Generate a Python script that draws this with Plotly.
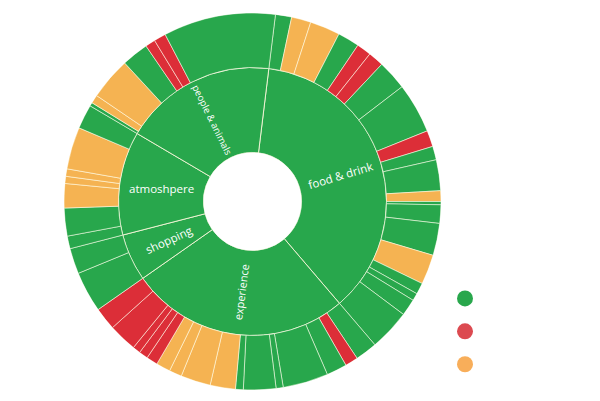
import math
import plotly.graph_objects as go

# ---------------- data ----------------
inner_labels = ["food & drink", "experience", "shopping", "atmoshpere", "people & animals"]

food_values = [5, 6, 9.3, 6.7, 4.5, 4.8, 9.2, 15.5, 5, 4.2, 9.5, 3.3, 1, 5.7, 9.9, 9.2, 3.5, 2.3, 5.2, 12.7]
food_sent = ["pos", "neu", "neu", "pos", "neg", "neg", "pos", "pos", "neg", "pos", "pos", "neu",
             "pos", "pos", "pos", "neu", "pos", "pos", "pos", "pos"]
experience_values = [6.8, 4, 6.3, 14, 2.2, 10, 2.4, 7.8, 9.2, 3.9, 4.4, 3.5, 2.8, 2.4, 8.8, 7]
experience_sent = ["pos", "neg", "pos", "pos", "pos", "pos", "pos", "neu", "neu", "neu", "neu",
                   "neg", "neg", "neg", "neg", "neg"]
shopping_values = [12.6, 7.9]
shopping_sent = ["pos", "pos"]
atmosphere_values = [3.9, 8.6, 7.5, 2.2, 2.3, 13, 7.5]
atmosphere_sent = ["pos", "pos", "neu", "neu", "neu", "neu", "pos"]
people_values = [1.1, 2.6, 13.1, 8.3, 3.1, 3.7, 34.6]
people_sent = ["pos", "neu", "neu", "pos", "neg", "neg", "pos"]

children_values = [food_values, experience_values, shopping_values, atmosphere_values, people_values]
children_sent = [food_sent, experience_sent, shopping_sent, atmosphere_sent, people_sent]

sentiments = ["pos", "neg", "neu"]
sent_colors = {"pos": "#28a74c", "neg": "#dc2e38", "neu": "#f5b352"}
legend_colors = {"pos": "#28a74c", "neg": "#dc4a50", "neu": "#f8ae5a"}

# ---------------- layout constants ----------------
W, H = 600, 401
DOM_X = [64 / W, 441 / W]
DOM_Y = [11 / H, 388 / H]
HOLE = 0.26
INNER_T = 85.0     # radial thickness of inner ring (axis units)
OUTER_T = 54.5     # radial thickness of outer ring
START = 7.0        # clockwise start angle from top

total = sum(sum(v) for v in children_values)
inner_values = [sum(v) for v in children_values]

# inner ring bars
in_theta, in_width = [], []
acc = 0.0
for v in inner_values:
    w = v / total * 360
    in_theta.append(acc + w / 2)
    in_width.append(w)
    acc += w

# outer ring bars
out_theta, out_width, out_color = [], [], []
acc = 0.0
for vals, sents in zip(children_values, children_sent):
    for v, s in zip(vals, sents):
        w = v / total * 360
        out_theta.append(acc + w / 2)
        out_width.append(w)
        out_color.append(sent_colors[s])
        acc += w

fig = go.Figure()
fig.add_trace(go.Barpolar(
    theta=in_theta, width=in_width, r=[INNER_T] * len(in_theta), base=0,
    marker=dict(color=sent_colors["pos"], line=dict(color="rgba(245,245,215,0.9)", width=1)),
    showlegend=False, hoverinfo="skip", text=inner_labels,
))
fig.add_trace(go.Barpolar(
    theta=out_theta, width=out_width, r=[OUTER_T] * len(out_theta), base=INNER_T,
    marker=dict(color=out_color, line=dict(color="rgba(255,255,235,0.55)", width=1)),
    showlegend=False, hoverinfo="skip",
))
for s in sentiments:
    fig.add_trace(go.Scatterpolar(
        r=[None], theta=[None], mode="markers", name="",
        marker=dict(color=legend_colors[s], size=16, symbol="circle"),
        showlegend=True, hoverinfo="skip",
    ))

# rotated labels on the inner ring, positioned from the data
cx = (DOM_X[0] + DOM_X[1]) / 2 * W
cy = H - (DOM_Y[0] + DOM_Y[1]) / 2 * H
R = (DOM_X[1] - DOM_X[0]) * W / 2
hole_px = R * HOLE
scale = (R - hole_px) / (INNER_T + OUTER_T)
r_lab = hole_px + INNER_T / 2 * scale
font_sizes = [11.5, 11, 11.5, 11.5, 9.5]
annotations = []
for lab, th, fs in zip(inner_labels, in_theta, font_sizes):
    ang = th + START
    a = math.radians(ang)
    px = cx + r_lab * math.sin(a)
    py = cy - r_lab * math.cos(a)
    rot = (ang - 90) % 360
    if rot > 180:
        rot -= 360
    if rot > 90:
        rot -= 180
    elif rot < -90:
        rot += 180
    if lab == "atmoshpere":
        rot = 0
    annotations.append(dict(
        x=px / W, y=1 - py / H, xref="paper", yref="paper", text=lab, showarrow=False,
        textangle=rot, font=dict(color="white", size=fs, family="Open Sans"),
        xanchor="center", yanchor="middle",
    ))

fig.update_layout(
    width=W, height=H, margin=dict(l=0, r=0, t=0, b=0),
    paper_bgcolor="white", plot_bgcolor="white",
    polar=dict(
        domain=dict(x=DOM_X, y=DOM_Y), hole=HOLE, bgcolor="white",
        radialaxis=dict(visible=False, range=[0, INNER_T + OUTER_T]),
        angularaxis=dict(visible=False, rotation=90 - START, direction="clockwise",
                         thetaunit="degrees"),
        barmode="overlay",
    ),
    showlegend=True,
    legend=dict(x=445 / W, y=1 - 277 / H, xanchor="left", yanchor="top",
                font=dict(size=23, color="white"), bgcolor="rgba(0,0,0,0)",
                itemclick=False, itemdoubleclick=False),
    annotations=annotations,
)

fig.write_html("out.html")
